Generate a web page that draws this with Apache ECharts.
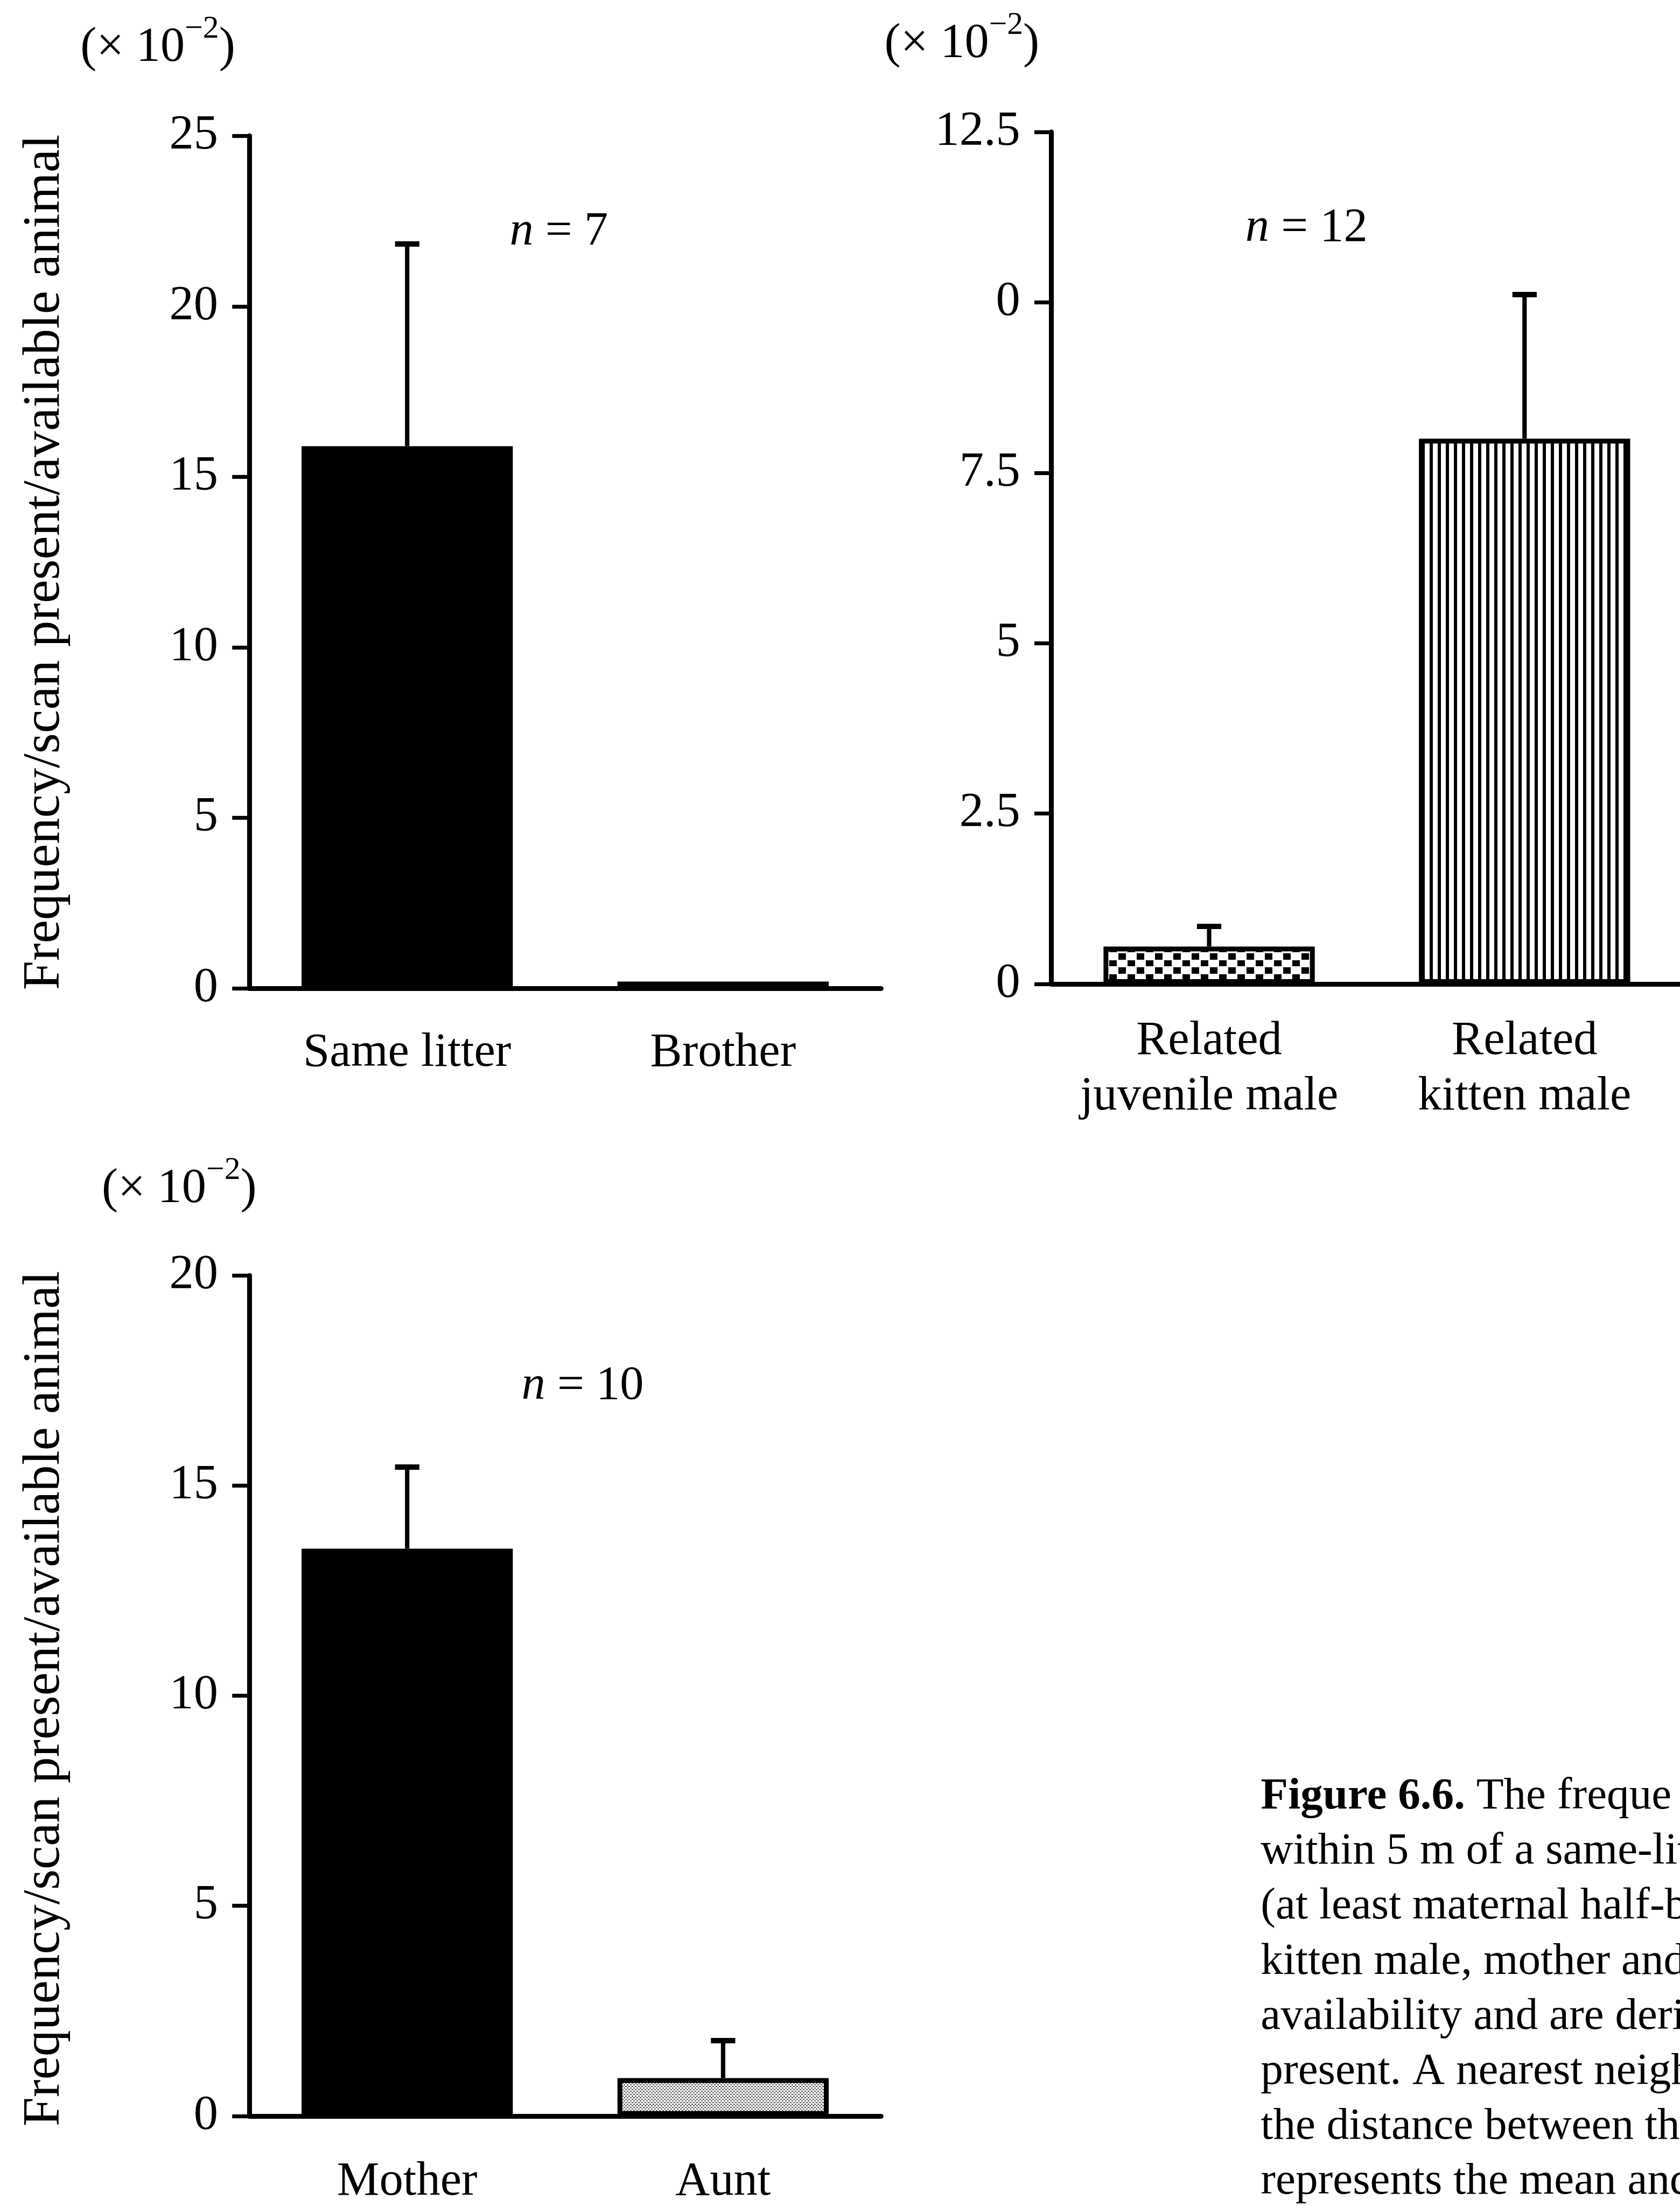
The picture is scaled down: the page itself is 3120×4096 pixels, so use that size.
<!DOCTYPE html>
<html>
<head>
<meta charset="utf-8">
<script src="https://cdn.jsdelivr.net/npm/echarts@6/dist/echarts.min.js"></script>
<style>
  html, body { margin: 0; padding: 0; background: #fff; }
  #chart { width: 3120px; height: 4096px; }
</style>
</head>
<body>
<div id="chart"></div>
<script>
// values (units of 10^-2)
const litterCats = ['Same litter', 'Brother']
const litterMean = [15.9, 0.2]
const litterSe = [6.0, 0]

const kinCats = ['Related\njuvenile male', 'Related\nkitten male']
const kinMean = [0.55, 8.0]
const kinSe = [0.33, 2.15]
// the printed figure labels the 10 tick as "0"
const kinTickLabels = ['0', '2.5', '5', '7.5', '0', '12.5']

const motherCats = ['Mother', 'Aunt']
const motherMean = [13.5, 0.9]
const motherSe = [2.0, 0.95]

const sampleSizes = [7, 12, 10]

const captionLines = [
  '{b|Figure 6.6.} The freque',
  'within 5 m of a same-lit',
  '(at least maternal half-b',
  'kitten male, mother and',
  'availability and are deri',
  'present. A nearest neigh',
  'the distance between th',
  'represents the mean and'
]

// everything below is laid out in reference pixels and scaled down
const k = 0.904
const s = v => v * k
const FONT = '"Liberation Serif", "Times New Roman", serif'

const pattern = (w, h, draw) => {
  const c = document.createElement('canvas')
  c.width = w
  c.height = h
  const ctx = c.getContext('2d')
  ctx.fillStyle = '#fff'
  ctx.fillRect(0, 0, w, h)
  ctx.fillStyle = '#000'
  draw(ctx)
  return { image: c, repeat: 'repeat' }
}
const dots = pattern(34, 26, ctx => { ctx.fillRect(3, 2, 14, 12); ctx.fillRect(20, 15, 14, 11) })
const stripes = pattern(15, 4, ctx => { ctx.fillRect(0, 0, 6, 4) })
const stipple = pattern(6, 6, ctx => { ctx.fillStyle = '#555'; ctx.fillRect(0, 0, 3, 2); ctx.fillRect(3, 3, 3, 2) })

const black = { color: '#000' }
const boxed = fill => ({ color: fill, borderColor: '#000', borderWidth: s(10) })

const panels = [
  { cats: litterCats, mean: litterMean, se: litterSe, max: 25, interval: 5, styles: [black, black],
    grid: { left: 512, top: 279, width: 1298, height: 1751 }, catMargin: 77 },
  { cats: kinCats, mean: kinMean, se: kinSe, max: 12.5, interval: 2.5, styles: [boxed(dots), boxed(stripes)],
    grid: { left: 2160, top: 271, width: 1296, height: 1750 }, catMargin: 62, ticks: kinTickLabels },
  { cats: motherCats, mean: motherMean, se: motherSe, max: 20, interval: 5, styles: [black, boxed(stipple)],
    grid: { left: 512, top: 2620, width: 1298, height: 1726 }, catMargin: 80 }
]

const errorBar = (params, api) => {
  const lo = api.value(1)
  const hi = api.value(2)
  if (!(hi > lo)) return null
  const p0 = api.coord([api.value(0), lo])
  const p1 = api.coord([api.value(0), hi])
  const cap = s(50)
  return {
    type: 'group',
    children: [
      { type: 'line', shape: { x1: p0[0], y1: p0[1], x2: p1[0], y2: p1[1] + s(4) },
        style: { stroke: '#000', lineWidth: s(9) } },
      { type: 'line', shape: { x1: p1[0] - cap / 2, y1: p1[1] + s(5), x2: p1[0] + cap / 2, y2: p1[1] + s(5) },
        style: { stroke: '#000', lineWidth: s(11) } }
    ]
  }
}

const textStyle = (size, extra) => Object.assign({ fill: '#000', fontFamily: FONT, fontSize: s(size) }, extra)

const unitLabel = (x, y) => ({
  type: 'text', x: s(x), y: s(y),
  style: textStyle(100, {
    text: '{m|(× 10}{sup|−2}{m|)}', align: 'left', verticalAlign: 'middle',
    rich: {
      m: { fontFamily: FONT, fontSize: s(100), fill: '#000', lineHeight: s(122), verticalAlign: 'bottom' },
      sup: { fontFamily: FONT, fontSize: s(66), fill: '#000', lineHeight: s(70), verticalAlign: 'top' }
    }
  })
})
const nLabel = (x, y, n) => ({
  type: 'text', x: s(x), y: s(y),
  style: textStyle(98, {
    text: '{i|n} = ' + n, align: 'center', verticalAlign: 'middle',
    rich: { i: { fontFamily: FONT, fontSize: s(98), fontStyle: 'italic', fill: '#000' } }
  })
})
const yTitle = y => ({
  type: 'text', x: s(92), y: s(y), rotation: Math.PI / 2,
  style: textStyle(108, { text: 'Frequency/scan present/available animal', align: 'center', verticalAlign: 'middle' })
})

const myEcharts = echarts.init(document.getElementById('chart'))
myEcharts.setOption({
  animation: false,
  backgroundColor: '#fff',
  grid: panels.map(p => ({
    left: s(p.grid.left), top: s(p.grid.top), width: s(p.grid.width), height: s(p.grid.height),
    containLabel: false, outerBoundsMode: 'none'
  })),
  xAxis: panels.map((p, i) => ({
    gridIndex: i,
    type: 'category',
    data: p.cats,
    axisLine: { lineStyle: { color: '#000', width: s(10) } },
    axisTick: { show: false },
    axisLabel: {
      interval: 0, hideOverlap: false,
      color: '#000', fontFamily: FONT, fontSize: s(98), lineHeight: s(113), margin: s(p.catMargin)
    }
  })),
  yAxis: panels.map((p, i) => ({
    gridIndex: i,
    type: 'value',
    min: 0,
    max: p.max,
    interval: p.interval,
    splitLine: { show: false },
    axisLine: { show: true, lineStyle: { color: '#000', width: s(10) } },
    axisTick: { show: true, length: s(35), lineStyle: { color: '#000', width: s(8) } },
    axisLabel: {
      color: '#000', fontFamily: FONT, fontSize: s(100), margin: s(64),
      formatter: p.ticks ? (v, idx) => p.ticks[idx] : v => String(v)
    }
  })),
  series: panels.flatMap((p, i) => [
    {
      type: 'bar',
      xAxisIndex: i,
      yAxisIndex: i,
      barWidth: s(434),
      data: p.mean.map((v, j) => ({ value: v, itemStyle: p.styles[j] })),
      z: 2
    },
    {
      type: 'custom',
      xAxisIndex: i,
      yAxisIndex: i,
      renderItem: errorBar,
      encode: { x: 0, y: [1, 2] },
      data: p.mean.map((v, j) => [j, v, v + p.se[j]]),
      z: 3
    }
  ]),
  graphic: [
    unitLabel(165, 88),
    unitLabel(1817, 80),
    unitLabel(209, 2432),
    nLabel(1148, 476, sampleSizes[0]),
    nLabel(2684, 469, sampleSizes[1]),
    nLabel(1197, 2847, sampleSizes[2]),
    yTitle(1155),
    yTitle(3489),
    {
      type: 'text', x: s(2590), y: s(3634),
      style: textStyle(92, {
        text: captionLines.join('\n'), align: 'left', verticalAlign: 'top', lineHeight: s(113),
        rich: { b: { fontFamily: FONT, fontSize: s(92), fontWeight: 'bold', fill: '#000', lineHeight: s(113) } }
      })
    }
  ]
})
window.addEventListener('resize', () => {
  myEcharts.resize()
})
</script>
</body>
</html>
